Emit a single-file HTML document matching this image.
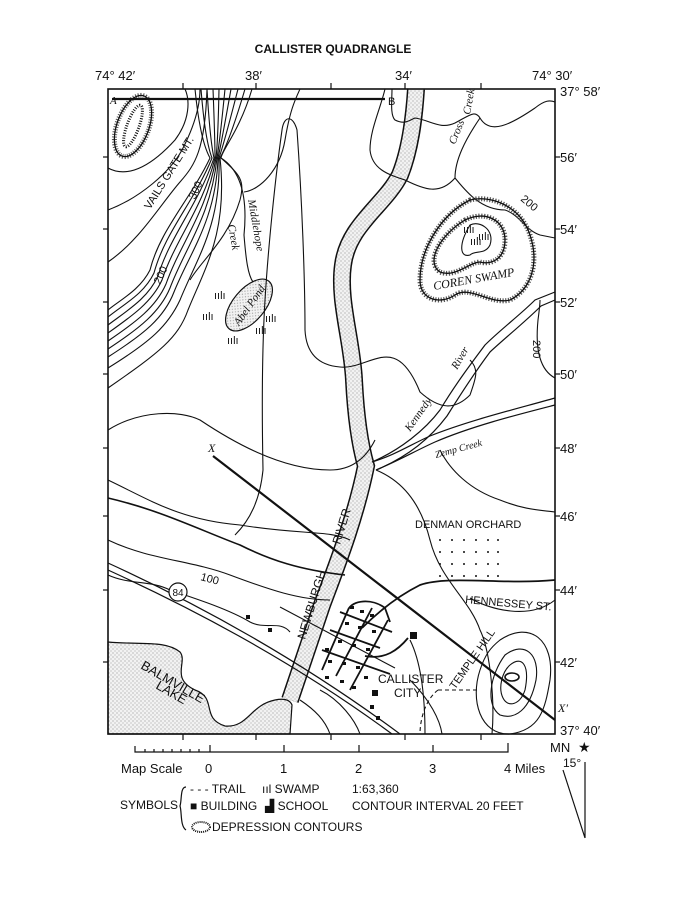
<!DOCTYPE html>
<html><head><meta charset="utf-8"><style>
body{margin:0;background:#fff}
svg{display:block}
text{font-family:"Liberation Sans",sans-serif;fill:#111}
.s{font-family:"Liberation Serif",serif;font-style:italic}
</style></head><body>
<svg width="695" height="900" viewBox="0 0 695 900" xmlns="http://www.w3.org/2000/svg">
<defs>
<pattern id="dots" width="4" height="4" patternUnits="userSpaceOnUse"><rect width="4" height="4" fill="#f2f2f2"/><circle cx="1" cy="1" r="0.6" fill="#999"/><circle cx="3" cy="3" r="0.6" fill="#aaa"/></pattern>
</defs>
<text x="333" y="53" font-size="12" text-anchor="middle" font-weight="bold">CALLISTER QUADRANGLE</text>
<text x="95" y="80" font-size="13">74° 42′</text>
<text x="245" y="80" font-size="13">38′</text>
<text x="395" y="80" font-size="13">34′</text>
<text x="532" y="80" font-size="13">74° 30′</text>
<g font-size="13">
<text x="560" y="96">37° 58′</text><text x="560" y="162">56′</text><text x="560" y="234">54′</text><text x="560" y="307">52′</text><text x="560" y="379">50′</text><text x="560" y="453">48′</text><text x="560" y="521">46′</text><text x="560" y="595">44′</text><text x="560" y="667">42′</text><text x="560" y="735">37° 40′</text>
</g>
<!-- lake -->
<path d="M108,642 C140,645 165,640 180,652 C188,662 170,678 195,690 C218,698 200,718 225,726 C248,728 250,705 275,700 C285,698 290,700 292,705 L290,734 L108,734 Z" fill="url(#dots)" stroke="#111" stroke-width="1.2"/>
<!-- Newburgh river -->
<g fill="none">
<path id="riv" d="M416,89 C414,120 410,150 400,175 C385,205 348,225 343,265 C338,300 352,340 354,380 C356,420 360,445 366,466 C355,520 335,570 322,605 C310,640 300,670 290,700"/>
<use href="#riv" stroke="#111" stroke-width="18"/>
<use href="#riv" stroke="url(#dots)" stroke-width="15"/>
</g>
<!-- Kennedy river & Zemp -->
<g fill="none" stroke="#111" stroke-width="1.2">
<path d="M555,292 L535,300 C520,315 500,330 485,345 C470,365 455,385 440,410 C425,430 400,450 372,462"/>
<path d="M555,300 L541,306 C525,322 505,338 490,352 C475,372 462,392 447,416 C432,436 410,456 376,470"/>
<path d="M555,398 C520,408 470,420 430,436 C410,445 395,455 372,462"/>
<path d="M555,405 C520,414 472,426 435,442 C415,451 400,460 376,470"/>
</g>
<!-- Abel pond -->
<ellipse cx="249" cy="305" rx="16" ry="31" transform="rotate(40 249 305)" fill="url(#dots)" stroke="#111" stroke-width="1.2"/>
<text class="s" x="249" y="309" font-size="11" text-anchor="middle" transform="rotate(-55 249 305)">Abel Pond</text>
<!-- contours -->
<g fill="none" stroke="#111" stroke-width="1.1">
<path d="M108,168 C130,180 155,162 175,140 C190,120 190,100 185,89"/>
<path d="M108,210 C140,198 170,172 182,150 C195,125 200,105 200,89"/>
<path d="M108,262 C140,240 160,205 180,182 C195,165 205,150 207,89"/>
<path d="M195,89 Q200,140 210,158 C190,200 160,230 150,270 C140,290 120,300 108,310"/>
<path d="M201,89 Q205,140 212,158 C194,202 165,232 154,273 C144,294 124,304 108,317"/>
<path d="M207,89 Q210,140 214,158 C198,205 170,236 158,276 C148,298 128,310 108,325"/>
<path d="M213,89 Q215,140 215,158 C203,208 175,240 162,280 C152,302 132,316 108,333"/>
<path d="M219,89 Q218,140 216,158 C207,212 180,244 166,284 C156,307 136,322 108,341"/>
<path d="M225,89 Q220,140 217,158 C211,216 185,248 170,288 C160,312 140,328 108,349"/>
<path d="M231,89 Q222,140 218,158 C216,220 190,252 174,292 C164,318 144,334 108,357"/>
<path d="M238,89 Q225,140 219,158 C221,225 197,258 180,300 C168,326 150,342 108,368"/>
<path d="M245,89 Q230,140 220,158 C228,232 205,268 188,310 C178,338 160,352 108,388"/>
<path d="M252,89 C240,130 222,150 221,158 C240,175 245,180 240,200 C228,240 200,262 190,280"/>
<path d="M221,158 C240,170 248,195 244,235 C246,260 248,275 253,282"/>
<path d="M244,192 C260,190 280,170 285,140 C290,110 295,100 300,89"/>
<path d="M108,498 C160,510 200,530 240,545 C270,560 300,570 345,575" stroke-width="1.6"/>
<path d="M108,540 C150,560 190,560 230,575 C270,590 300,600 330,600"/>
<path d="M108,575 C130,585 150,580 170,590 C200,600 230,610 250,622 C265,630 280,620 290,632"/>
<path d="M235,535 C250,520 260,500 263,470 C262,420 262,350 265,300 C268,250 275,180 282,130 C284,115 293,115 297,130 C302,200 305,280 305,330 C306,350 315,365 340,367 C370,370 395,330 420,392 C440,410 455,410 470,395 C475,380 480,370 470,360"/>
<path d="M555,378 C540,370 535,350 538,320 C540,305 540,300 540,300"/>
<path d="M108,430 C140,410 180,410 200,420 C230,440 280,470 330,470 C350,470 365,460 375,440"/>
<path d="M108,480 C150,500 180,520 240,525 C300,535 330,530 350,540"/>
<path d="M385,89 C380,110 370,130 370,150 C372,170 390,175 405,180 C425,190 440,195 455,178 C465,190 480,210 505,210 C520,215 525,230 540,235 L555,238"/>
<path d="M392,89 C392,100 390,115 395,120 C405,125 410,120 415,118 C430,120 440,130 455,123 C470,115 475,110 480,118 C490,135 510,125 535,108 C545,100 550,100 555,102"/>
<path d="M480,118 C465,140 455,160 455,178"/>
<path d="M376,470 C400,480 420,500 430,540 C440,580 470,600 480,630 C490,650 495,700 492,734"/>
<path d="M440,450 C450,470 470,490 500,500 C525,510 540,510 555,512"/>
<path d="M470,598 C490,610 530,620 555,600"/>
<path d="M410,640 C420,660 425,690 425,734"/>
<path d="M300,700 C315,710 325,720 330,734"/>
<path d="M320,690 C340,700 355,720 360,734"/>
<path d="M410,680 C430,700 440,720 442,734"/>
<!-- Temple hill -->
<path d="M500,640 C530,620 555,640 550,680 C545,710 540,730 510,734 C480,735 470,700 480,670 C485,655 490,648 500,640 Z"/>
<path d="M505,655 C525,640 540,655 536,680 C530,710 515,720 500,715 C485,705 490,675 505,655 Z"/>
<path d="M510,665 C522,655 530,665 525,690 C520,705 508,708 503,698 C498,688 502,672 510,665 Z"/>
<ellipse cx="512" cy="677" rx="7" ry="4" stroke-width="1.6"/>
<!-- Coren swamp -->
<path d="M470,200 C490,195 520,205 530,235 C540,265 530,290 510,300 C490,305 470,285 455,295 C440,305 420,300 420,280 C420,250 440,215 470,200 Z" stroke-dasharray="1.2,1.6" stroke-width="5" stroke="#555"/>
<path d="M470,200 C490,195 520,205 530,235 C540,265 530,290 510,300 C490,305 470,285 455,295 C440,305 420,300 420,280 C420,250 440,215 470,200 Z" stroke-width="1.3"/>
<path d="M465,220 C485,210 505,220 505,240 C505,260 490,265 480,262 C470,262 455,278 440,272 C425,262 440,235 465,220 Z" stroke-dasharray="1.2,1.6" stroke-width="5" stroke="#555"/>
<path d="M465,220 C485,210 505,220 505,240 C505,260 490,265 480,262 C470,262 455,278 440,272 C425,262 440,235 465,220 Z" stroke-width="1.3"/>
<path d="M470,225 C480,220 495,230 490,245 C485,255 475,250 470,255 C460,258 458,245 470,225 Z"/>
<!-- depression NW -->
<ellipse cx="133" cy="126" rx="16" ry="32" transform="rotate(20 133 126)" stroke-dasharray="1,1.5" stroke-width="5" stroke="#555"/>
<ellipse cx="133" cy="126" rx="16" ry="32" transform="rotate(20 133 126)" stroke-width="1.3"/>
<ellipse cx="133" cy="126" rx="6" ry="22" transform="rotate(20 133 126)" stroke-dasharray="1,1.5" stroke-width="3"/>
<!-- highway -->
<path d="M108,563 C200,605 300,660 400,734" stroke-width="1.2"/>
<path d="M108,570 C200,612 300,666 392,734" stroke-width="1.2"/>
<!-- Hennessey St -->
<path d="M362,628 C380,610 400,595 420,585 C450,575 500,585 555,580" stroke-width="1.8"/>
<!-- town streets -->
<g stroke-width="1.8">
<path d="M322,670 L348,610 C352,600 372,598 385,608 L390,622"/>
<path d="M336,676 L372,608"/>
<path d="M350,690 L388,620"/>
<path d="M340,612 L392,632"/>
<path d="M330,630 L380,648"/>
<path d="M322,650 L390,674"/>
<path d="M365,656 C385,660 398,650 408,638"/>
</g>
<path d="M280,607 L395,668"/>
<path d="M438,690 L478,690" stroke-dasharray="4,3"/>
<path d="M438,690 C425,700 420,720 420,734" stroke-dasharray="4,3"/>
</g>
<!-- profile lines -->
<line x1="112" y1="99" x2="385" y2="99" stroke="#111" stroke-width="2.2"/>
<line x1="213" y1="456" x2="555" y2="720" stroke="#111" stroke-width="2.2"/>
<text class="s" x="110" y="104" font-size="11">A</text>
<text x="388" y="105" font-size="11">B</text>
<text class="s" x="208" y="452" font-size="12">X</text>
<text class="s" x="558" y="712" font-size="12">X′</text>
<!-- frame -->
<rect x="108" y="89" width="447" height="645" fill="none" stroke="#111" stroke-width="1.6"/>
<g stroke="#111" stroke-width="1.2">
<line x1="183" y1="83" x2="183" y2="89"/><line x1="256" y1="83" x2="256" y2="89"/><line x1="331" y1="83" x2="331" y2="89"/><line x1="405" y1="83" x2="405" y2="89"/><line x1="481" y1="83" x2="481" y2="89"/>
<line x1="183" y1="734" x2="183" y2="740"/><line x1="256" y1="734" x2="256" y2="740"/><line x1="331" y1="734" x2="331" y2="740"/><line x1="405" y1="734" x2="405" y2="740"/><line x1="481" y1="734" x2="481" y2="740"/>
<line x1="555" y1="157" x2="560" y2="157"/><line x1="555" y1="229" x2="560" y2="229"/><line x1="555" y1="302" x2="560" y2="302"/><line x1="555" y1="374" x2="560" y2="374"/><line x1="555" y1="448" x2="560" y2="448"/><line x1="555" y1="516" x2="560" y2="516"/><line x1="555" y1="590" x2="560" y2="590"/><line x1="555" y1="662" x2="560" y2="662"/>
<line x1="103" y1="157" x2="108" y2="157"/><line x1="103" y1="229" x2="108" y2="229"/><line x1="103" y1="302" x2="108" y2="302"/><line x1="103" y1="374" x2="108" y2="374"/><line x1="103" y1="448" x2="108" y2="448"/><line x1="103" y1="516" x2="108" y2="516"/><line x1="103" y1="590" x2="108" y2="590"/><line x1="103" y1="662" x2="108" y2="662"/>
</g>
<!-- orchard dots -->
<g fill="#111">
<circle cx="440" cy="540" r="1"/><circle cx="452" cy="540" r="1"/><circle cx="464" cy="540" r="1"/><circle cx="476" cy="540" r="1"/><circle cx="488" cy="540" r="1"/><circle cx="498" cy="540" r="1"/>
<circle cx="440" cy="552" r="1"/><circle cx="452" cy="552" r="1"/><circle cx="464" cy="552" r="1"/><circle cx="476" cy="552" r="1"/><circle cx="488" cy="552" r="1"/><circle cx="498" cy="552" r="1"/>
<circle cx="440" cy="564" r="1"/><circle cx="452" cy="564" r="1"/><circle cx="464" cy="564" r="1"/><circle cx="476" cy="564" r="1"/><circle cx="488" cy="564" r="1"/><circle cx="498" cy="564" r="1"/>
<circle cx="440" cy="576" r="1"/><circle cx="452" cy="576" r="1"/><circle cx="464" cy="576" r="1"/><circle cx="476" cy="576" r="1"/><circle cx="488" cy="576" r="1"/><circle cx="498" cy="576" r="1"/>
<!-- buildings -->
<rect x="246" y="615" width="4" height="4"/><rect x="268" y="628" width="4" height="4"/>
<rect x="350" y="606" width="4" height="3"/><rect x="360" y="610" width="4" height="3"/><rect x="370" y="614" width="4" height="3"/><rect x="345" y="622" width="4" height="3"/><rect x="358" y="626" width="4" height="3"/><rect x="372" y="630" width="4" height="3"/><rect x="338" y="640" width="4" height="3"/><rect x="352" y="644" width="4" height="3"/><rect x="366" y="648" width="4" height="3"/><rect x="325" y="648" width="4" height="3"/><rect x="328" y="660" width="4" height="3"/><rect x="342" y="662" width="4" height="3"/><rect x="356" y="666" width="4" height="3"/><rect x="325" y="676" width="4" height="3"/><rect x="340" y="680" width="4" height="3"/><rect x="352" y="686" width="4" height="3"/><rect x="364" y="676" width="4" height="3"/><rect x="370" y="705" width="4" height="4"/><rect x="376" y="716" width="4" height="4"/>
<rect x="410" y="632" width="7" height="7"/><rect x="372" y="690" width="6" height="6"/>
</g>
<!-- swamp symbols -->
<g font-size="11" fill="#111"><text x="214" y="299">ıılı</text><text x="202" y="320">ıılı</text><text x="265" y="322">ıılı</text><text x="255" y="334">ıılı</text><text x="227" y="344">ıılı</text><text x="463" y="233">ıılı</text><text x="478" y="240">ıılı</text><text x="470" y="245">ıılı</text></g>
<!-- labels -->
<text x="150" y="210" font-size="11" transform="rotate(-58 150 210)">VAILS GATE MT.</text>
<text x="195" y="200" font-size="11" transform="rotate(-65 195 200)">300</text>
<text x="160" y="285" font-size="11" transform="rotate(-65 160 285)">200</text>
<text class="s" x="248" y="200" font-size="11" transform="rotate(80 248 200)">Middlehope</text>
<text class="s" x="228" y="225" font-size="11" transform="rotate(80 228 225)">Creek</text>
<text class="s" x="455" y="145" font-size="11" transform="rotate(-68 455 145)">Cross</text>
<text class="s" x="470" y="115" font-size="11" transform="rotate(-80 470 115)">Creek</text>
<text x="520" y="200" font-size="11" transform="rotate(40 520 200)">200</text>
<text class="s" x="434" y="290" font-size="12" transform="rotate(-10 434 290)">COREN SWAMP</text>
<text x="533" y="340" font-size="11" transform="rotate(90 533 340)">200</text>
<text class="s" x="457" y="370" font-size="11" transform="rotate(-60 457 370)">River</text>
<text class="s" x="410" y="432" font-size="11" transform="rotate(-55 410 432)">Kennedy</text>
<text class="s" x="436" y="458" font-size="10" transform="rotate(-15 436 458)">Zemp Creek</text>
<text x="415" y="528" font-size="11">DENMAN ORCHARD</text>
<text x="465" y="603" font-size="11" transform="rotate(5 465 603)">HENNESSEY ST.</text>
<text x="305" y="640" font-size="12" transform="rotate(-73 305 640)">NEWBURGH</text>
<text x="340" y="545" font-size="12" transform="rotate(-73 340 545)">RIVER</text>
<text x="200" y="580" font-size="11" transform="rotate(15 200 580)">100</text>
<circle cx="178" cy="592" r="9" fill="#fff" stroke="#111" stroke-width="1.2"/>
<text x="178" y="596" font-size="10" text-anchor="middle">84</text>
<text x="140" y="668" font-size="13" transform="rotate(30 140 668)">BALMVILLE</text>
<text x="155" y="688" font-size="13" transform="rotate(30 155 688)">LAKE</text>
<text x="378" y="683" font-size="12">CALLISTER</text>
<text x="394" y="697" font-size="12">CITY</text>
<text x="455" y="690" font-size="11" transform="rotate(-55 455 690)">TEMPLE HILL</text>
<!-- scale -->
<g stroke="#111" stroke-width="1.2" fill="none">
<path d="M135,746 L135,752 L508,752 L508,743"/>
<path d="M145,749v3M154,749v3M163,749v3M172,749v3M181,749v3M190,749v3M199,749v3M210,745v7M284,745v7M359,745v7M433,745v7"/>
</g>
<g font-size="13"><text x="121" y="773">Map Scale</text><text x="205" y="773">0</text><text x="280" y="773">1</text><text x="355" y="773">2</text><text x="429" y="773">3</text><text x="504" y="773">4 Miles</text></g>
<text x="550" y="752" font-size="13">MN</text><text x="578" y="752" font-size="14">★</text>
<text x="563" y="767" font-size="12">15°</text>
<path d="M585,762 L585,838 M563,770 L585,838" stroke="#111" stroke-width="1.2" fill="none"/>
<g font-size="12">
<text x="120" y="809">SYMBOLS</text>
<path d="M186,787 C180,787 182,800 180,806 C182,812 180,826 186,830" fill="none" stroke="#111" stroke-width="1.2"/>
<text x="190" y="793">- - - TRAIL</text>
<text x="262" y="793">ııl SWAMP</text>
<text x="352" y="793">1:63,360</text>
<text x="190" y="810">■ BUILDING</text>
<text x="265" y="810">▟ SCHOOL</text>
<text x="352" y="810">CONTOUR INTERVAL 20 FEET</text>
<text x="212" y="831">DEPRESSION CONTOURS</text>
</g>
<ellipse cx="201" cy="827" rx="9" ry="5" fill="none" stroke="#111" stroke-dasharray="1,1" stroke-width="2"/>
</svg>
</body></html>
